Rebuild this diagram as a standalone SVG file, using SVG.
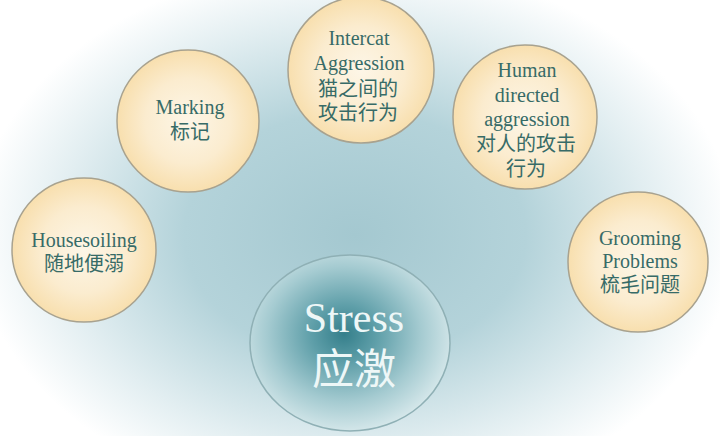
<svg xmlns="http://www.w3.org/2000/svg" width="720" height="436" viewBox="0 0 720 436">
<defs>
<radialGradient id="bg" cx="355" cy="235" r="380" gradientUnits="userSpaceOnUse" gradientTransform="translate(355 235) scale(1 0.72) translate(-355 -235)">
<stop offset="0" stop-color="#a4c8d0"/>
<stop offset="0.45" stop-color="#b4d3da"/>
<stop offset="0.78" stop-color="#e2eef1"/>
<stop offset="1" stop-color="#ffffff"/>
</radialGradient>
<radialGradient id="yel" cx="0.5" cy="0.5" r="0.5">
<stop offset="0" stop-color="#fdf6e7"/>
<stop offset="0.6" stop-color="#fbeccf"/>
<stop offset="1" stop-color="#f8dfae"/>
</radialGradient>
<radialGradient id="st" cx="0.47" cy="0.45" r="0.55">
<stop offset="0" stop-color="#357f8b"/>
<stop offset="0.3" stop-color="#5f9fa9"/>
<stop offset="0.7" stop-color="#a5cbd1"/>
<stop offset="1" stop-color="#d3e6e9"/>
</radialGradient>
</defs>
<style>
.c{fill:url(#yel);stroke:#a8a28f;stroke-width:1.5}
.en{font-family:"Liberation Serif","DejaVu Serif",serif;font-size:20px;fill:#376b67;text-anchor:middle}
.zh{font-family:"Noto Sans CJK SC","Noto Sans",sans-serif;font-size:20px;fill:#376b67;text-anchor:middle}
</style>
<rect x="0" y="0" width="720" height="436" fill="url(#bg)"/>
<g id="housesoiling">
<circle class="c" cx="84" cy="250" r="72"/>
<text class="en" x="84" y="247">Housesoiling</text>
<text class="zh" x="84" y="271">随地便溺</text>
</g>
<g id="marking">
<circle class="c" cx="188" cy="121" r="71"/>
<text class="en" x="190" y="114">Marking</text>
<text class="zh" x="190" y="139">标记</text>
</g>
<g id="intercat">
<circle class="c" cx="361" cy="70" r="73"/>
<text class="en" x="359" y="45">Intercat</text>
<text class="en" x="359" y="70">Aggression</text>
<text class="zh" x="358" y="96">猫之间的</text>
<text class="zh" x="358" y="120">攻击行为</text>
</g>
<g id="human">
<circle class="c" cx="525" cy="117" r="72"/>
<text class="en" x="527" y="77">Human</text>
<text class="en" x="527" y="102">directed</text>
<text class="en" x="527" y="126">aggression</text>
<text class="zh" x="526" y="151">对人的攻击</text>
<text class="zh" x="526" y="176">行为</text>
</g>
<g id="grooming">
<circle class="c" cx="638" cy="262" r="70"/>
<text class="en" x="640" y="245">Grooming</text>
<text class="en" x="640" y="268">Problems</text>
<text class="zh" x="640" y="292">梳毛问题</text>
</g>
<g id="stress">
<ellipse cx="350" cy="343" rx="100" ry="88" fill="url(#st)" stroke="#8fb0b5" stroke-width="1.5"/>
<text x="354" y="332" font-family="Liberation Serif, DejaVu Serif, serif" font-size="42" fill="#eef7f7" text-anchor="middle">Stress</text>
<text x="354" y="384" font-family="Noto Sans CJK SC, Noto Sans, sans-serif" font-size="42" fill="#eef7f7" text-anchor="middle">应激</text>
</g>
</svg>
